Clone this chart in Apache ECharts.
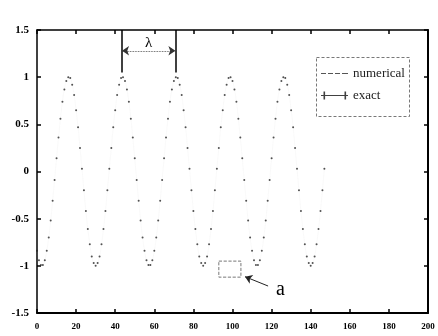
<!DOCTYPE html>
<html>
<head>
<meta charset="utf-8">
<script src="https://cdn.jsdelivr.net/npm/echarts@6/dist/echarts.min.js"></script>
<style>html,body{margin:0;padding:0;background:#fff}#c{width:438px;height:336px}</style>
</head>
<body>
<div id="c"></div>
<script>
// sample positions (x) start at 0, step 1
const xStart = 0;
const xStep = 1;
// values (x = 0 .. 147)
const exactValues = [
-0.84,-0.94,-0.99,-0.99,-0.94,-0.84,-0.70,-0.52,-0.31,-0.09,
0.14,0.36,0.56,0.74,0.87,0.96,1.00,0.99,0.92,0.81,
0.65,0.47,0.25,0.03,-0.20,-0.42,-0.61,-0.77,-0.90,-0.97,
-1.00,-0.97,-0.90,-0.77,-0.61,-0.42,-0.20,0.03,0.25,0.47,
0.65,0.81,0.92,0.99,1.00,0.96,0.87,0.74,0.56,0.36,
0.14,-0.09,-0.31,-0.52,-0.70,
-0.84,-0.94,-0.99,-0.99,-0.94,-0.84,-0.70,-0.52,-0.31,-0.09,
0.14,0.36,0.56,0.74,0.87,0.96,1.00,0.99,0.92,0.81,
0.65,0.47,0.25,0.03,-0.20,-0.42,-0.61,-0.77,-0.90,-0.97,
-1.00,-0.97,-0.90,-0.77,-0.61,-0.42,-0.20,0.03,0.25,0.47,
0.65,0.81,0.92,0.99,1.00,0.96,0.87,0.74,0.56,0.36,
0.14,-0.09,-0.31,-0.52,-0.70,
-0.84,-0.94,-0.99,-0.99,-0.94,-0.84,-0.70,-0.52,-0.31,-0.09,
0.14,0.36,0.56,0.74,0.87,0.96,1.00,0.99,0.92,0.81,
0.65,0.47,0.25,0.03,-0.20,-0.42,-0.61,-0.77,-0.90,-0.97,
-1.00,-0.97,-0.90,-0.77,-0.61,-0.42,-0.20,0.03
];
const numericalValues = exactValues.slice();
const seriesNames = ['numerical', 'exact'];
// annotation values (data units)
const lambdaX = [43.5, 70.8];
const lambdaY = [1.05, 1.5, 1.28];
const boxA = [[93, -0.95], [104.3, -1.12]];
const arrowA = [[118.2, -1.214], [106.4, -1.115]];
const labelA = [124.5, -1.25];

const toPairs = vals => vals.map((v, i) => [xStart + i * xStep, v]);

const serif = '"Liberation Serif","DejaVu Serif",serif';
const chart = echarts.init(document.getElementById('c'));

const baseX = {
  type: 'value', min: 0, max: 200, interval: 20,
  axisLine: {show: true, onZero: false, lineStyle: {color: '#000', width: 2}},
  axisTick: {show: true, inside: true, length: 4, lineStyle: {color: '#000', width: 1.5}},
  splitLine: {show: false}
};
const baseY = {
  type: 'value', min: -1.5, max: 1.5, interval: 0.5,
  axisLine: {show: true, onZero: false, lineStyle: {color: '#000', width: 1.5}},
  axisTick: {show: true, inside: true, length: 4, lineStyle: {color: '#000', width: 1.5}},
  splitLine: {show: false}
};

chart.setOption({
  animation: false,
  backgroundColor: '#fff',
  grid: {left: 37, right: 10, top: 30, bottom: 23},
  xAxis: [
    Object.assign({}, baseX, {position: 'bottom',
      axisLabel: {color: '#000', fontFamily: serif, fontWeight: 'bold', fontSize: 9, margin: 9}}),
    Object.assign({}, baseX, {position: 'top', axisLabel: {show: false},
      axisLine: {show: true, onZero: false, lineStyle: {color: '#000', width: 1.5}}})
  ],
  yAxis: [
    Object.assign({}, baseY, {position: 'left',
      axisLabel: {color: '#000', fontFamily: serif, fontWeight: 'bold', fontSize: 11, margin: 8}}),
    Object.assign({}, baseY, {position: 'right', axisLabel: {show: false},
      axisLine: {show: true, onZero: false, lineStyle: {color: '#000', width: 2}}})
  ],
  legend: {
    data: [
      {name: seriesNames[0], icon: 'path://M0,4.6h5v0.8h-5z M7,4.6h5v0.8h-5z M14,4.6h5v0.8h-5z M21,4.6h6v0.8h-6z',
       itemStyle: {color: '#555'}},
      {name: seriesNames[1], icon: 'path://M0,4.4h27v1.2h-27z M2.5,1h1.6v8h-1.6z M23.5,1h1.6v8h-1.6z',
       itemStyle: {color: '#111'}}
    ],
    orient: 'vertical',
    left: 316, top: 62,
    itemWidth: 27, itemHeight: 10, itemGap: 9,
    textStyle: {fontFamily: serif, fontSize: 13, color: '#222'},
    selectedMode: false
  },
  graphic: [{
    type: 'rect', left: 314, top: 55,
    shape: {width: 93, height: 59},
    style: {fill: 'none', stroke: '#555', lineWidth: 0.8, lineDash: [3, 2]},
    z: 10
  }],
  series: [
    {
      name: 'numerical', type: 'line', data: toPairs(numericalValues),
      showSymbol: false, smooth: true,
      lineStyle: {color: '#aaa', width: 0.5, type: 'dotted', opacity: 0.25},
      itemStyle: {color: '#555'}
    },
    {
      name: 'exact', type: 'scatter', data: toPairs(exactValues),
      symbol: 'circle', symbolSize: 2,
      itemStyle: {color: '#222'}
    },
    {
      name: 'annot', type: 'line', data: [], silent: true,
      markLine: {
        silent: true, symbol: 'none', animation: false,
        label: {show: false},
        lineStyle: {color: '#000', width: 1.5, type: 'solid'},
        data: [
          [{coord: [lambdaX[0], lambdaY[0]]}, {coord: [lambdaX[0], lambdaY[1]]}],
          [{coord: [lambdaX[1], lambdaY[0]]}, {coord: [lambdaX[1], lambdaY[1]]}],
          [{coord: [lambdaX[0], lambdaY[2]], symbol: 'arrow', symbolSize: 7,
            lineStyle: {width: 0.8, type: 'dotted', color: '#333'},
            label: {show: true, position: 'middle', formatter: 'λ', fontFamily: serif, fontSize: 15, color: '#000', distance: 0}},
           {coord: [lambdaX[1], lambdaY[2]], symbol: 'arrow', symbolSize: 7}],
          [{coord: arrowA[0], symbol: 'none', lineStyle: {width: 1, color: '#222', type: 'solid'}},
           {coord: arrowA[1], symbol: 'arrow', symbolSize: 7}]
        ]
      },
      markArea: {
        silent: true,
        itemStyle: {color: 'rgba(0,0,0,0)', borderColor: '#555', borderWidth: 0.8, borderType: 'dashed'},
        data: [[{coord: boxA[0]}, {coord: boxA[1]}]]
      },
      markPoint: {
        silent: true,
        data: [{coord: labelA, symbol: 'circle', symbolSize: 1,
          itemStyle: {color: 'rgba(0,0,0,0)'},
          label: {show: true, formatter: 'a', position: 'inside', fontFamily: serif, fontSize: 20, color: '#000'}}]
      }
    }
  ]
});
</script>
</body>
</html>
